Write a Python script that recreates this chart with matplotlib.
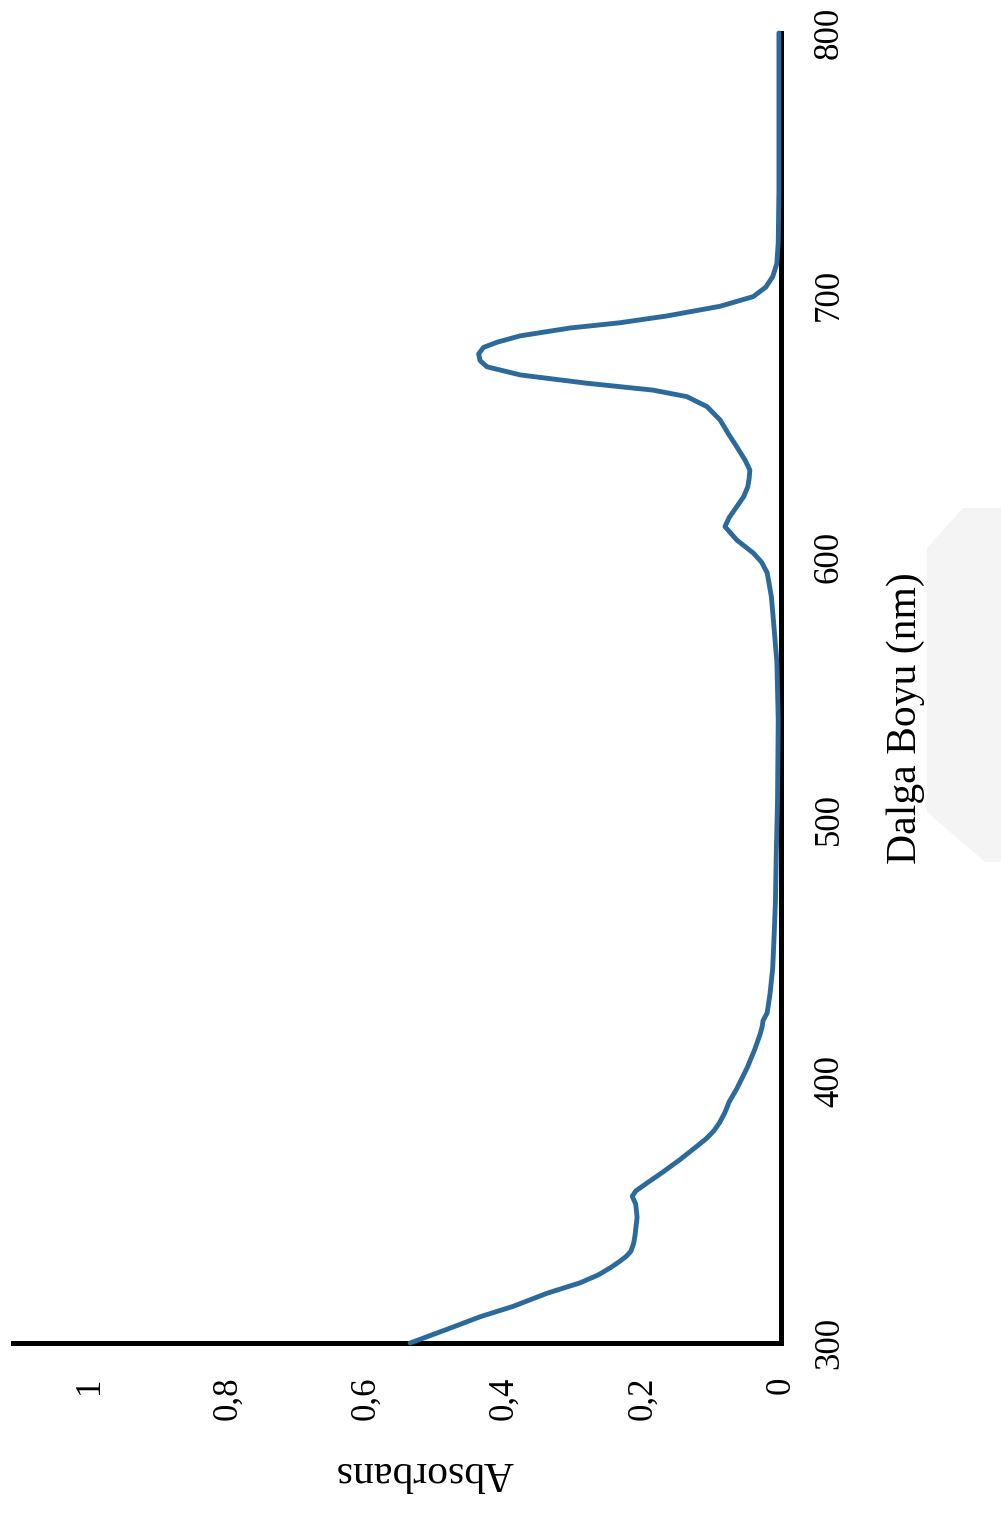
import matplotlib
matplotlib.use("Agg")
import matplotlib.pyplot as plt
from matplotlib.patches import Polygon

# UV-Vis absorption spectrum
wavelength = [300, 305, 310, 314, 319, 323, 326, 329, 331, 333, 335, 338, 341, 348, 353,
              356, 358, 361, 365, 370, 375, 378, 381, 384, 388, 392, 397, 405, 412, 418,
              421, 423, 426, 433, 443, 455, 469, 485, 507, 538, 560, 576, 585, 594, 598,
              601.5, 606.5, 611.6, 615, 619.2, 623, 626.8, 630, 633.2, 637, 642.1, 647,
              652.3, 657.4, 661.2, 663.7, 666.3, 669.5, 672.6, 675, 677.5, 680, 682, 684.4,
              687.4, 689.4, 692, 695.7, 699.4, 703, 707, 712, 720, 740, 770, 800]
absorbance = [0.536, 0.485, 0.435, 0.387, 0.338, 0.290, 0.264, 0.245, 0.234, 0.224, 0.217,
              0.213, 0.211, 0.208, 0.210, 0.215, 0.210, 0.194, 0.172, 0.146, 0.122, 0.108,
              0.097, 0.089, 0.081, 0.075, 0.064, 0.049, 0.038, 0.030, 0.027, 0.026, 0.020,
              0.016, 0.012, 0.010, 0.008, 0.007, 0.005, 0.004, 0.006, 0.011, 0.014, 0.020,
              0.028, 0.040, 0.064, 0.081, 0.075, 0.064, 0.054, 0.048, 0.046, 0.045, 0.052,
              0.064, 0.076, 0.088, 0.107, 0.136, 0.185, 0.280, 0.377, 0.425, 0.435, 0.437,
              0.430, 0.410, 0.377, 0.305, 0.233, 0.165, 0.088, 0.040, 0.022, 0.012, 0.006,
              0.004, 0.003, 0.003, 0.003]

abs_ticks = [0, 0.2, 0.4, 0.6, 0.8, 1]
abs_labels = ["0", "0,2", "0,4", "0,6", "0,8", "1"]
wl_ticks = [300, 400, 500, 600, 700, 800]
wl_labels = ["300", "400", "500", "600", "700", "800"]

W, H = 1001, 1535
fig = plt.figure(figsize=(W / 100, H / 100), dpi=100)
fig.patch.set_facecolor("white")

serif = ["Liberation Serif", "DejaVu Serif"]

# faint background mark on the right margin
mark = [(927, 548), (963, 508), (1001, 508), (1001, 862), (985, 862), (927, 812)]
fig.patches.append(Polygon([(x / W, 1 - y / H) for x, y in mark], closed=True,
                           transform=fig.transFigure, facecolor="#f4f4f4",
                           edgecolor="none", zorder=0))

left, right, bottom, top = 13, 781, 1343, 33
ax = fig.add_axes([left / W, 1 - bottom / H, (right - left) / W, (bottom - top) / H])
ax.set_facecolor("none")

ax.plot(absorbance, wavelength, color="#2b6a9b", lw=3.5, solid_capstyle="round",
        solid_joinstyle="round", zorder=3, clip_on=False)

ax.set_xlim(1.11, 0)
ax.set_ylim(300, 800)

for side in ("left", "top"):
    ax.spines[side].set_visible(False)
for side in ("right", "bottom"):
    ax.spines[side].set_linewidth(3.6)
    ax.spines[side].set_color("black")

ax.yaxis.tick_right()
ax.set_xticks(abs_ticks)
ax.set_xticklabels(abs_labels, rotation=90, fontfamily=serif, fontsize=25, va="top")
ax.set_yticks(wl_ticks)
ax.set_yticklabels(wl_labels, rotation=90, fontfamily=serif, fontsize=25, va="center")
ax.tick_params(axis="x", length=0, pad=24)
ax.tick_params(axis="y", length=0, pad=23)

fig.text(424 / W, 1 - 1472 / H, "Absorbans", rotation=180, ha="center", va="center",
         fontsize=30, fontfamily=serif)
fig.text(906 / W, 1 - 718 / H, "Dalga Boyu (nm)", rotation=90, ha="center", va="center",
         fontsize=30, fontfamily=serif)

fig.savefig("out.png", dpi=100, facecolor="white")
